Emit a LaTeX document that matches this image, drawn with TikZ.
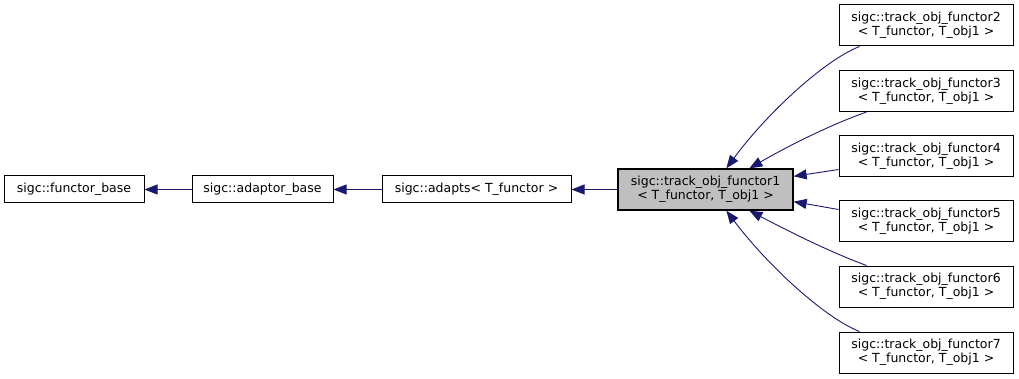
\documentclass[tikz,border=0pt]{standalone}
\usepackage{fontspec}
\setmainfont{DejaVu Sans}
\usetikzlibrary{arrows.meta}
\definecolor{edgeblue}{HTML}{191970}
\definecolor{boxgray}{HTML}{BFBFBF}
\tikzset{
  cls/.style={draw=black, line width=1pt, fill=white, inner sep=0pt,
    align=center, font=\fontsize{12.5}{14}\selectfont},
  onebox/.style={cls, minimum height=27pt},
  twobox/.style={cls, minimum height=41pt, minimum width=174pt},
  inherit/.style={draw=edgeblue, line width=0.9pt,
    -{Triangle[length=13pt,width=10pt]}, color=edgeblue}
}
\begin{document}
\begin{tikzpicture}[x=1pt,y=-1pt]
\useasboundingbox (0,0) rectangle (1019,379);
% base chain
\node[onebox, minimum width=140pt] (fb) at (74,189.5) {sigc::functor\_base};
\node[onebox, minimum width=141pt] (ab) at (262.5,189.5) {sigc::adaptor\_base};
\node[onebox, minimum width=189pt] (ad) at (476.5,189.5) {sigc::adapts< T\_functor >};
\node[twobox, minimum width=175pt, fill=boxgray, line width=1.3pt] (t1) at (705.5,189.5)
  {sigc::track\_obj\_functor1\\< T\_functor, T\_obj1 >};
% derived functors
\node[twobox] (f2) at (926,25.5)  {sigc::track\_obj\_functor2\\< T\_functor, T\_obj1 >};
\node[twobox] (f3) at (926,91)    {sigc::track\_obj\_functor3\\< T\_functor, T\_obj1 >};
\node[twobox] (f4) at (926,156.5) {sigc::track\_obj\_functor4\\< T\_functor, T\_obj1 >};
\node[twobox] (f5) at (926,221.5) {sigc::track\_obj\_functor5\\< T\_functor, T\_obj1 >};
\node[twobox] (f6) at (926,286.5) {sigc::track\_obj\_functor6\\< T\_functor, T\_obj1 >};
\node[twobox] (f7) at (926,352.5) {sigc::track\_obj\_functor7\\< T\_functor, T\_obj1 >};
% inheritance arrows
\draw[inherit] (ab.west) -- (fb.east);
\draw[inherit] (ad.west) -- (ab.east);
\draw[inherit] (t1.west) -- (ad.east);
\draw[inherit] ([xshift=21pt]f2.south west) .. controls (825,60) and (768,112) .. ([xshift=109pt]t1.north west);
\draw[inherit] ([xshift=28pt]f3.south west) .. controls (830,125) and (790,145) .. ([xshift=132pt]t1.north west);
\draw[inherit] ([yshift=-13pt]f4.west) -- ([yshift=-8pt]t1.north east);
\draw[inherit] ([yshift=12pt]f5.west) -- ([yshift=9pt]t1.south east);
\draw[inherit] ([xshift=28pt]f6.north west) .. controls (830,252) and (790,232) .. ([xshift=132pt]t1.south west);
\draw[inherit] ([xshift=21pt]f7.north west) .. controls (825,318) and (768,266) .. ([xshift=109pt]t1.south west);
\end{tikzpicture}
\end{document}
